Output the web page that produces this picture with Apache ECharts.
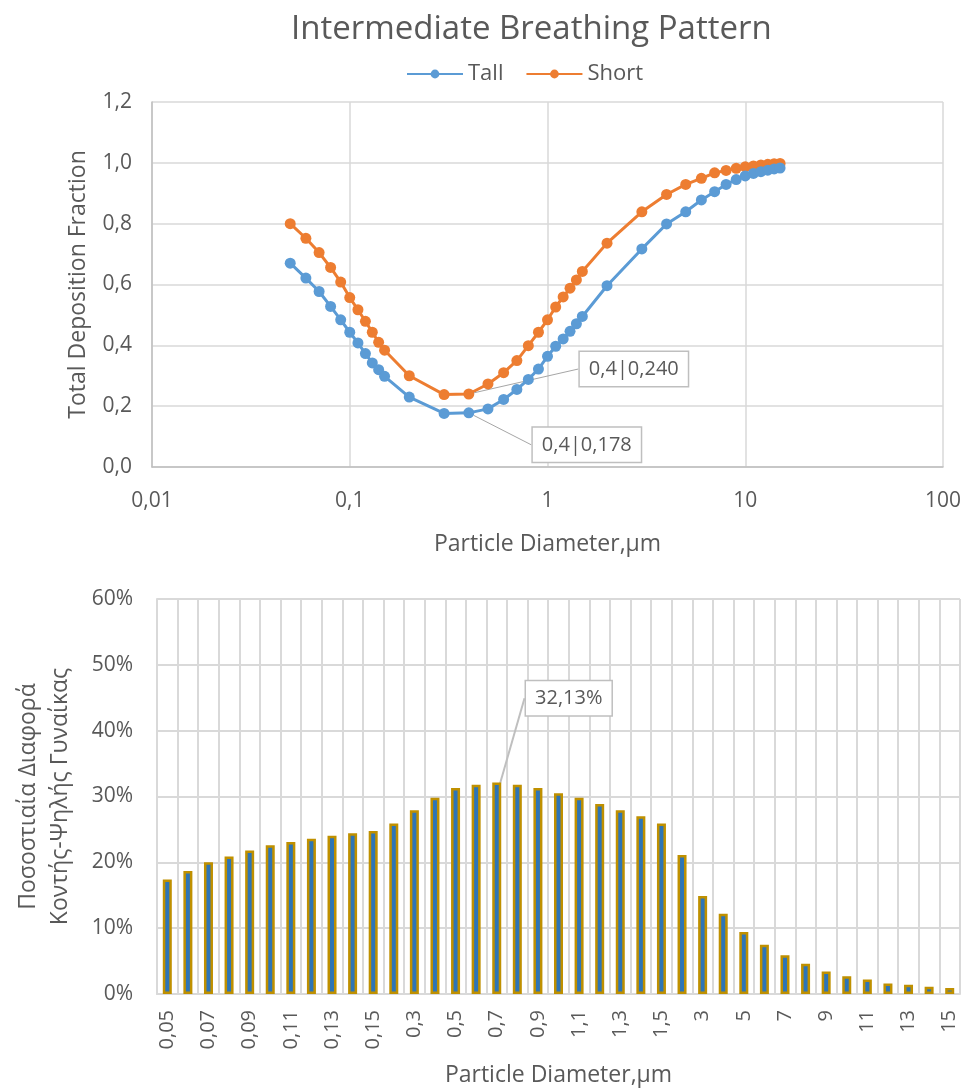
<!DOCTYPE html>
<html>
<head>
<meta charset="utf-8">
<script src="https://cdn.jsdelivr.net/npm/echarts@6/dist/echarts.min.js"></script>
<style>
html,body{margin:0;padding:0;background:#fff;}
#chart{width:965px;height:1088px;}
</style>
</head>
<body>
<div id="chart"></div>
<script>
// ---- data ----
const diameters = [0.05,0.06,0.07,0.08,0.09,0.1,0.11,0.12,0.13,0.14,0.15,0.2,0.3,0.4,0.5,0.6,0.7,0.8,0.9,1,1.1,1.2,1.3,1.4,1.5,2,3,4,5,6,7,8,9,10,11,12,13,14,15];
const tall = [0.670,0.621,0.577,0.528,0.484,0.443,0.408,0.373,0.342,0.320,0.298,0.230,0.176,0.178,0.191,0.222,0.255,0.288,0.322,0.364,0.397,0.421,0.446,0.471,0.495,0.596,0.717,0.799,0.839,0.878,0.905,0.929,0.945,0.957,0.965,0.971,0.976,0.980,0.983];
const short = [0.800,0.752,0.705,0.656,0.608,0.557,0.517,0.479,0.443,0.410,0.384,0.300,0.238,0.240,0.273,0.310,0.350,0.399,0.443,0.484,0.526,0.559,0.588,0.615,0.643,0.736,0.839,0.896,0.929,0.949,0.967,0.975,0.982,0.987,0.990,0.993,0.995,0.997,0.998];
const diffPct = [17.4,18.7,20.0,20.9,21.8,22.6,23.1,23.6,24.05,24.4,24.75,25.9,27.9,29.8,31.3,31.8,32.13,31.8,31.3,30.5,29.8,28.85,27.9,27.0,25.9,21.1,14.9,12.2,9.4,7.5,5.9,4.6,3.4,2.7,2.2,1.6,1.4,1.1,0.9];
const logTickLabels = {0.01:'0,01',0.1:'0,1',1:'1',10:'10',100:'100'};
const calloutIndex = 13;   // 0.4 µm
const barCalloutIndex = 16; // 0.7 µm

// ---- helpers ----
const fmtComma = v => String(v).replace('.', ',');
const FONT = 'Open Sans';
const TXT = '#595959';
const GRIDC = '#d9d9d9';

function calloutLabel(text){
  return {show:true, position:'inside', formatter:text,
    fontFamily:FONT, fontSize:20, color:TXT, backgroundColor:'#fff',
    borderColor:'#bfbfbf', borderWidth:1.5, padding:[8,9,6,9]};
}
const tallData = diameters.map((d,i)=>{
  const item = {value:[d, tall[i]]};
  if (i===calloutIndex) {
    item.label = calloutLabel(fmtComma(d)+'|'+tall[i].toFixed(3).replace('.',','));
    item.labelLine = {show:true, lineStyle:{color:'#a6a6a6', width:1}};
  }
  return item;
});
const shortData = diameters.map((d,i)=>{
  const item = {value:[d, short[i]]};
  if (i===calloutIndex) {
    item.label = calloutLabel(fmtComma(d)+'|'+short[i].toFixed(3).replace('.',','));
    item.labelLine = {show:true, lineStyle:{color:'#a6a6a6', width:1}};
  }
  return item;
});
const barData = diffPct.map((v,i)=>{
  const item = {value:v};
  if (i===barCalloutIndex) {
    item.label = calloutLabel(fmtComma(v.toFixed(2))+'%');
    item.labelLine = {show:true, lineStyle:{color:'#bfbfbf', width:2}};
  }
  return item;
});

const chart = echarts.init(document.getElementById('chart'), null, {renderer:'canvas'});
chart.setOption({
  animation:false,
  backgroundColor:'#fff',
  textStyle:{fontFamily:FONT},
  title:{text:'Intermediate Breathing Pattern', left:286, top:8,
    textStyle:{fontFamily:FONT, fontSize:33, fontWeight:'normal', color:TXT}},
  legend:{top:58, left:401, itemWidth:56, itemHeight:11, itemGap:22,
    textStyle:{fontFamily:FONT, fontSize:22, color:TXT},
    data:['Tall','Short']},
  grid:[
    {left:152, top:102, width:791, height:365},
    {left:157, top:599, width:803, height:396}
  ],
  xAxis:[
    {type:'log', logBase:10, min:0.01, max:100, gridIndex:0,
      name:'Particle Diameter,μm', nameLocation:'middle', nameGap:66,
      nameTextStyle:{fontFamily:FONT, fontSize:23, color:TXT},
      axisLine:{show:true, lineStyle:{color:'#bfbfbf', width:1.5}},
      axisTick:{show:false}, minorTick:{show:false},
      axisLabel:{margin:24, fontFamily:FONT, fontSize:21, color:TXT,
        formatter:v=>logTickLabels[v]!==undefined?logTickLabels[v]:fmtComma(v)},
      splitLine:{show:true, lineStyle:{color:GRIDC, width:1.5}}},
    {type:'category', gridIndex:1, data:diameters.map(fmtComma),
      name:'Particle Diameter,μm', nameLocation:'middle', nameGap:70,
      nameTextStyle:{fontFamily:FONT, fontSize:23, color:TXT},
      axisLine:{show:true, lineStyle:{color:'#d9d9d9', width:2}},
      axisTick:{show:false},
      axisLabel:{interval:1, rotate:90, margin:16, fontFamily:FONT, fontSize:20, color:TXT},
      splitLine:{show:true, interval:0, lineStyle:{color:GRIDC, width:2}}}
  ],
  yAxis:[
    {type:'value', gridIndex:0, min:0, max:1.2, interval:0.2,
      name:'Total Deposition Fraction', nameLocation:'middle', nameGap:62,
      nameTextStyle:{fontFamily:FONT, fontSize:23, color:TXT},
      axisLine:{show:true, lineStyle:{color:'#bfbfbf', width:1.5}},
      axisTick:{show:false},
      axisLabel:{margin:20, fontFamily:FONT, fontSize:21, color:TXT,
        formatter:v=>v.toFixed(1).replace('.',',')},
      splitLine:{show:true, lineStyle:{color:GRIDC, width:1.5}}},
    {type:'value', gridIndex:1, min:0, max:60, interval:10,
      name:'Ποσοστιαία Διαφορά\nΚοντής-Ψηλής Γυναίκας', nameLocation:'middle', nameGap:81,
      nameTextStyle:{fontFamily:FONT, fontSize:23, color:TXT, lineHeight:32},
      axisLine:{show:true, lineStyle:{color:'#d9d9d9', width:2}},
      axisTick:{show:false},
      axisLabel:{margin:24, fontFamily:FONT, fontSize:21, color:TXT, formatter:'{value}%'},
      splitLine:{show:true, lineStyle:{color:GRIDC, width:2}}}
  ],
  series:[
    {name:'Tall', type:'line', xAxisIndex:0, yAxisIndex:0, data:tallData,
      symbol:'circle', symbolSize:11, color:'#5B9BD5',
      lineStyle:{width:3, color:'#5B9BD5'}, itemStyle:{color:'#5B9BD5'},
      labelLayout:{dx:118, dy:32}, z:3},
    {name:'Short', type:'line', xAxisIndex:0, yAxisIndex:0, data:shortData,
      symbol:'circle', symbolSize:11, color:'#ED7D31',
      lineStyle:{width:3, color:'#ED7D31'}, itemStyle:{color:'#ED7D31'},
      labelLayout:{dx:165, dy:-25}, z:2},
    {name:'Diff', type:'bar', xAxisIndex:1, yAxisIndex:1, data:barData,
      barWidth:9, itemStyle:{color:'#2E75B6', borderColor:'#BF9000', borderWidth:2.5},
      labelLayout:{dx:72, dy:-190}}
  ]
});
</script>
</body>
</html>
